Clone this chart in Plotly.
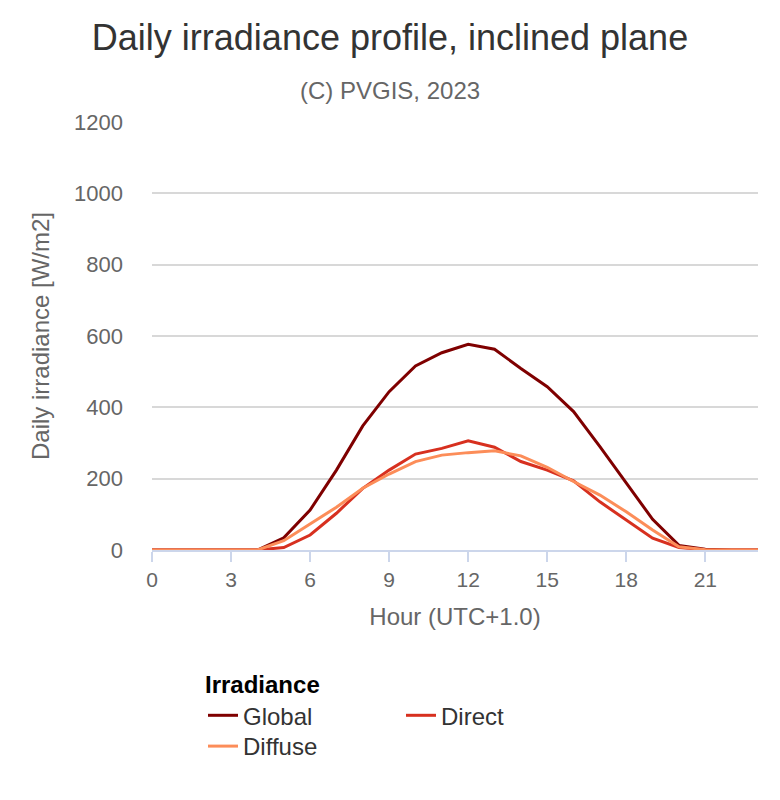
import plotly.graph_objects as go

hours = list(range(24))
global_irr = [0, 0, 0, 0, 0, 34, 112, 224, 348, 444, 516, 553, 577, 563, 509, 458, 388, 290, 187, 86, 13, 2, 0, 0]
direct_irr = [0, 0, 0, 0, 0, 7, 42, 103, 173, 224, 269, 285, 306, 288, 248, 224, 194, 135, 84, 33, 7, 1, 0, 0]
diffuse_irr = [0, 0, 0, 0, 0, 26, 73, 120, 173, 213, 248, 266, 273, 278, 264, 232, 192, 154, 107, 56, 9, 1, 0, 0]
x_ticks = [0, 3, 6, 9, 12, 15, 18, 21]
y_ticks = [0, 200, 400, 600, 800, 1000, 1200]

FONT = "Liberation Sans, Arial, sans-serif"

fig = go.Figure()
fig.add_trace(go.Scatter(x=hours, y=global_irr, mode="lines", name="Global",
                         line=dict(color="#7f0000", width=3), legend="legend"))
fig.add_trace(go.Scatter(x=hours, y=direct_irr, mode="lines", name="Direct",
                         line=dict(color="#d7301f", width=3), legend="legend"))
fig.add_trace(go.Scatter(x=hours, y=diffuse_irr, mode="lines", name="Diffuse",
                         line=dict(color="#fc8d59", width=3), legend="legend2"))

fig.update_layout(
    width=780, height=800,
    margin=dict(l=152, r=22, t=122, b=250),
    paper_bgcolor="white", plot_bgcolor="white",
    font=dict(family=FONT, color="#666666"),
    title=dict(text="Daily irradiance profile, inclined plane",
               font=dict(size=36, color="#333333", family=FONT),
               x=0.5, xanchor="center", y=1 - 37 / 800, yanchor="middle", xref="container", yref="container"),
    annotations=[dict(text="(C) PVGIS, 2023", xref="paper", yref="paper",
                      x=(390 - 152) / 606, y=(550 - 90) / 428, xanchor="center", yanchor="middle",
                      showarrow=False, font=dict(size=24, color="#666666", family=FONT))],
    xaxis=dict(range=[0, 23], tickvals=x_ticks, showgrid=False, zeroline=False,
               showline=True, linecolor="#ccd6eb", linewidth=2,
               ticks="outside", ticklen=10, tickwidth=2, tickcolor="#ccd6eb",
               tickfont=dict(size=21, color="#666666"),
               title=dict(text="Hour (UTC+1.0)", font=dict(size=24, color="#666666"), standoff=18)),
    yaxis=dict(range=[0, 1200], tickvals=y_ticks, showgrid=True, gridcolor="#d8d8d8", gridwidth=1.5,
               zeroline=False, showline=False, ticks="", ticklabelstandoff=28,
               tickfont=dict(size=22, color="#666666"),
               title=dict(text="Daily irradiance [W/m2]", font=dict(size=24, color="#666666"), standoff=17)),
    legend=dict(orientation="h", x=(203 - 152) / 606, xanchor="left", y=(550 - 662) / 428, yanchor="top",
                entrywidth=153, font=dict(size=24, color="#333333", family=FONT),
                title=dict(text="<b>Irradiance</b>", side="top", font=dict(size=24, color="#000000", family=FONT)),
                bgcolor="rgba(0,0,0,0)"),
    legend2=dict(orientation="h", x=(203 - 152) / 606, xanchor="left", y=(550 - 724) / 428, yanchor="top",
                 entrywidth=153, font=dict(size=24, color="#333333", family=FONT),
                 bgcolor="rgba(0,0,0,0)"),
    showlegend=True,
)

fig.write_html("out.html")
